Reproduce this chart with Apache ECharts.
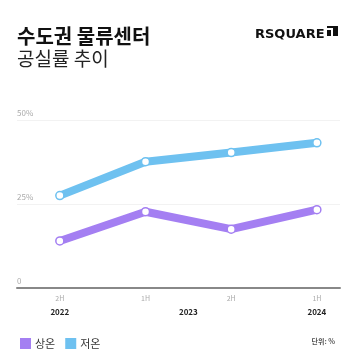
<!DOCTYPE html>
<html><head><meta charset="utf-8">
<script src="https://cdn.jsdelivr.net/npm/echarts@6/dist/echarts.min.js"></script>
<style>html,body{margin:0;padding:0;background:#fff}#c{width:357px;height:360px}</style>
</head><body><div id="c"></div>
<script>
const halfLabels = ['2H', '1H', '2H', '1H'];
const yearLabels = ['2022', '2023', '2024'];
const yearPositions = [0, 1.5, 3];
const ambient = [14.0, 22.7, 17.5, 23.3];   // 상온
const cold = [27.5, 37.6, 40.3, 43.2];      // 저온
const yTicks = [0, 25, 50];
const seriesNames = ['상온', '저온'];
const colors = ['#A47FF2', '#6EC1F0'];
const FONT = '"Noto Sans CJK KR", "Noto Sans", sans-serif';

const chart = echarts.init(document.getElementById('c'), null, {renderer: 'canvas'});
const toPairs = arr => arr.map((v, i) => [i, v]);
const xCommon = {
  type: 'value', min: -0.5, max: 3.27, splitLine: {show: false},
  axisTick: {show: false}
};
chart.setOption({
  animation: false,
  backgroundColor: '#fff',
  title: [
    {text: '수도권 물류센터', left: 12, top: 21, textStyle: {fontFamily: FONT, fontSize: 20, fontWeight: 'bold', color: '#111'}},
    {text: '공실률 추이', left: 12, top: 44, textStyle: {fontFamily: FONT, fontSize: 19, fontWeight: 'normal', color: '#222'}},
    {text: 'RSQUARE', left: 250, top: 23, textStyle: {fontFamily: '"DejaVu Sans", sans-serif', fontSize: 13, fontWeight: 'bold', color: '#111'}},
    {text: '단위: %', right: 17, top: 333, textStyle: {fontFamily: FONT, fontSize: 7, fontWeight: 'bold', color: '#555'}}
  ],
  graphic: [
    {type: 'rect', left: 327, top: 26, shape: {width: 11, height: 10}, style: {fill: '#111'}},
    {type: 'rect', left: 327, top: 28, shape: {width: 6, height: 2}, style: {fill: '#fff'}},
    {type: 'rect', left: 331, top: 28, shape: {width: 2, height: 8}, style: {fill: '#fff'}}
  ],
  legend: {
    left: 15, top: 333, icon: 'rect', itemWidth: 9, itemHeight: 9, itemGap: 10,
    textStyle: {fontFamily: FONT, fontSize: 11, color: '#333'},
    data: seriesNames.map((n, i) => ({name: n, itemStyle: {color: colors[i]}}))
  },
  grid: {left: 17, right: 17, top: 120, bottom: 72},
  xAxis: [
    Object.assign({}, xCommon, {
      position: 'bottom',
      axisLine: {show: true, lineStyle: {color: '#888', width: 2}},
      axisLabel: {customValues: [0, 1, 2, 3], formatter: v => halfLabels[Math.round(v)], color: '#aaa', fontSize: 7, margin: 7, fontFamily: FONT}
    }),
    Object.assign({}, xCommon, {
      position: 'bottom', offset: 13,
      axisLine: {show: false},
      axisLabel: {customValues: yearPositions, formatter: v => yearLabels[yearPositions.indexOf(v)], color: '#222', fontSize: 8, fontWeight: 'bold', margin: 7, fontFamily: FONT}
    })
  ],
  yAxis: {
    type: 'value', min: 0, max: 50, interval: 25,
    axisLine: {show: false}, axisTick: {show: false},
    splitLine: {show: true, lineStyle: {color: '#f2f2f2', width: 1}},
    axisLabel: {inside: true, verticalAlign: 'bottom', margin: 0, padding: [0, 0, 3, 0], color: '#aaa', fontSize: 8,
      formatter: v => v === 0 ? '0' : v + '%', fontFamily: FONT}
  },
  series: [ambient, cold].map((d, i) => ({
    name: seriesNames[i], type: 'line', data: toPairs(d), xAxisIndex: 0,
    symbol: 'circle', symbolSize: 8,
    itemStyle: {color: '#fff', borderColor: colors[i], borderWidth: 1.5},
    lineStyle: {color: colors[i], width: 8, cap: 'round', join: 'round'},
    z: 3
  }))
});
</script></body></html>
